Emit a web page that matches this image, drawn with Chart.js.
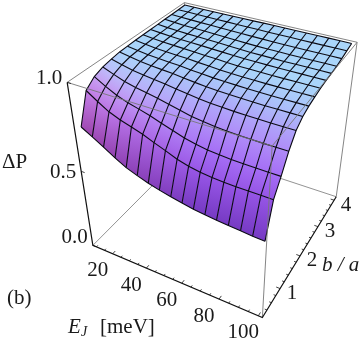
<!DOCTYPE html>
<html>
<head>
<meta charset="utf-8">
<style>
  html, body { margin: 0; padding: 0; background: #fff; }
  canvas { display: block; }
</style>
<script src="https://cdn.jsdelivr.net/npm/chart.js@4/dist/chart.umd.min.js"></script>
</head>
<body>
<canvas id="plot" width="363" height="342"></canvas>
<script>
const E_MESH = [8, 13.7, 19.4, 25.2, 30.9, 36.6, 42.3, 48, 53.8, 59.5, 65.2, 70.9, 76.6, 82.3, 88.1, 93.8, 99.5]
const B_MESH = [0.37, 0.64, 0.91, 1.18, 1.45, 1.72, 1.98, 2.25, 2.52, 2.79, 3.06, 3.33, 3.6, 3.87, 4.14]
const DELTA_P = [
  [.736, .700, .661, .620, .585, .560, .538, .520, .505, .492, .480, .472, .465, .460, .455, .450, .447],
  [.900, .858, .820, .794, .775, .754, .728, .704, .677, .659, .648, .640, .636, .635, .635, .635, .635],
  [.940, .904, .873, .850, .834, .816, .794, .774, .753, .738, .728, .722, .718, .716, .715, .715, .715],
  [.958, .934, .912, .897, .886, .874, .859, .845, .831, .822, .815, .810, .807, .806, .805, .805, .805],
  [.968, .953, .939, .930, .923, .915, .906, .897, .889, .883, .879, .876, .874, .873, .872, .872, .872],
  [.975, .964, .954, .947, .942, .937, .930, .923, .917, .913, .910, .908, .906, .905, .905, .905, .905],
  [.977, .968, .960, .955, .951, .947, .941, .936, .931, .928, .926, .924, .923, .922, .922, .922, .922],
  [.979, .972, .965, .961, .957, .954, .949, .945, .940, .937, .935, .934, .933, .933, .933, .933, .933],
  [.980, .974, .969, .965, .962, .959, .955, .952, .948, .945, .944, .943, .942, .942, .942, .942, .942],
  [.981, .976, .971, .968, .966, .963, .960, .957, .954, .952, .951, .950, .949, .949, .949, .949, .949],
  [.982, .977, .973, .970, .968, .966, .963, .960, .957, .955, .954, .953, .952, .952, .952, .952, .952],
  [.983, .979, .975, .973, .971, .969, .966, .964, .961, .959, .958, .958, .957, .957, .957, .957, .957],
  [.984, .981, .979, .977, .976, .974, .972, .971, .969, .968, .967, .966, .966, .966, .966, .966, .966],
  [.985, .984, .983, .982, .981, .981, .980, .979, .979, .978, .978, .978, .977, .977, .977, .977, .977],
  [.986, .986, .986, .986, .986, .986, .986, .986, .987, .987, .987, .987, .987, .987, .987, .987, .987]
]
const E_TICKS = [20, 40, 60, 80, 100]
const E_MINOR = [10, 15, 25, 30, 35, 45, 50, 55, 65, 70, 75, 85, 90, 95]
const B_TICKS = [1, 2, 3, 4]
const B_MINOR = [0.4, 0.6, 0.8, 1.2, 1.4, 1.6, 1.8, 2.2, 2.4, 2.6, 2.8, 3.2, 3.4, 3.6, 3.8]
const P_TICKS = [0, 0.5, 1]
const P_LABELS = ['0.0', '0.5', '1.0']

const BLUE = [170,213,250]
const SHADE_LEFT = [[160,72,175],[195,125,228],[200,160,242],[190,190,250],[178,205,250],[172,212,250],BLUE,BLUE,BLUE,BLUE,BLUE,BLUE,BLUE,BLUE,BLUE]
const SHADE_RIGHT = [[118,58,195],[150,85,230],[165,110,245],[175,140,248],[175,165,250],[172,185,250],[170,198,250],[170,206,250],BLUE,BLUE,BLUE,BLUE,BLUE,BLUE,BLUE]

const E_BOX = [7.8, 102]
const B_BOX = [0.2, 4.14]

// view of the unit box, fitted to the corners of the reference
const CAM = [140.1339, 136.4973, -36.9337, 92.8514, 36.6074, -65.8019, -176.8206, 245.3688, -0.1120, 0.2109, -0.1676]

function project(E, b, p){
  const u = (E - E_BOX[0])/(E_BOX[1] - E_BOX[0])
  const v = (b - B_BOX[0])/(B_BOX[1] - B_BOX[0])
  const w = CAM[8]*u + CAM[9]*v + CAM[10]*p + 1
  return {
    x: (CAM[0]*u + CAM[1]*v + CAM[2]*p + CAM[3])/w,
    y: (CAM[4]*u + CAM[5]*v + CAM[6]*p + CAM[7])/w
  }
}

function shade(i, j){
  const f = Math.min(1, i/10)
  const c = SHADE_LEFT[j].map((l, k) => Math.round(l + (SHADE_RIGHT[j][k] - l)*f))
  return 'rgb(' + c.join(',') + ')'
}

function lineSet(pts, color, width){
  return {data: pts, borderColor: color, borderWidth: width, showLine: true, fill: false}
}

const GRAY = '#777777'
const BLACK = '#111111'
const ctx2d = document.getElementById('plot').getContext('2d')
const paint = []

// box edges behind the surface
paint.push(lineSet([project(E_BOX[0],B_BOX[0],0), project(E_BOX[0],B_BOX[1],0), project(E_BOX[1],B_BOX[1],0)], GRAY, 0.8))
paint.push(lineSet([project(E_BOX[0],B_BOX[1],0), project(E_BOX[0],B_BOX[1],1)], GRAY, 0.8))
paint.push(lineSet([project(E_BOX[0],B_BOX[0],1), project(E_BOX[0],B_BOX[1],1), project(E_BOX[1],B_BOX[1],1)], GRAY, 0.9))

const pt = (i, j) => project(E_MESH[i], B_MESH[j], DELTA_P[j][i])

// surface cells, far rows first
for(let j = B_MESH.length - 2; j >= 0; j--){
  for(let i = 0; i < E_MESH.length - 1; i++){
    const a = pt(i, j), b = pt(i + 1, j), c = pt(i + 1, j + 1), d = pt(i, j + 1)
    const g = ctx2d.createLinearGradient((a.x + b.x)/2, (a.y + b.y)/2, (c.x + d.x)/2, (c.y + d.y)/2)
    g.addColorStop(0, shade(i + 0.5, j))
    g.addColorStop(1, shade(i + 0.5, j + 1))
    paint.push({data: [a, b, c, d, a], borderWidth: 0, borderColor: 'rgba(0,0,0,0)', backgroundColor: g, showLine: true, fill: 'shape'})
  }
}

// mesh lines
E_MESH.forEach((e, i) => {
  paint.push(lineSet(B_MESH.map((b, j) => pt(i, j)), '#0a0a14', 1.1))
})
B_MESH.forEach((b, j) => {
  paint.push(lineSet(E_MESH.map((e, i) => pt(i, j)), '#0a0a14', 1.1))
})

// box edges in front of the surface
paint.push(lineSet([project(E_BOX[0],B_BOX[0],1), project(E_BOX[1],B_BOX[0],1), project(E_BOX[1],B_BOX[1],1), project(E_BOX[1],B_BOX[1],0)], GRAY, 0.9))
paint.push(lineSet([project(E_BOX[1],B_BOX[0],1), project(E_BOX[1],B_BOX[0],0)], GRAY, 0.9))

// axes
paint.push(lineSet([project(E_BOX[0],B_BOX[0],1), project(E_BOX[0],B_BOX[0],0), project(E_BOX[1],B_BOX[0],0), project(E_BOX[1],B_BOX[1],0)], BLACK, 1.2))

const eTick = (e, len) => lineSet([project(e,B_BOX[0],0), project(e,B_BOX[0] + len,0)], BLACK, 0.8)
const bTick = (b, len) => lineSet([project(E_BOX[1],b,0), project(E_BOX[1] - len,b,0)], BLACK, 0.8)
E_TICKS.forEach(e => paint.push(eTick(e, 0.09)))
E_MINOR.forEach(e => paint.push(eTick(e, 0.05)))
B_TICKS.forEach(b => paint.push(bTick(b, 2)))
B_MINOR.forEach(b => paint.push(bTick(b, 1.1)))
P_TICKS.forEach(p => paint.push(lineSet([project(E_BOX[0],B_BOX[0],p), project(E_BOX[0] + 2,B_BOX[0],p)], BLACK, 0.8)))

const labelPlugin = {
  id: 'labels',
  afterDatasetsDraw(chart){
    const c = chart.ctx
    const sx = chart.scales.x, sy = chart.scales.y
    const put = (s, p, dx, dy, font, align) => {
      c.font = font
      c.textAlign = align
      c.textBaseline = 'middle'
      c.fillStyle = '#1a1a1a'
      c.fillText(s, sx.getPixelForValue(p.x) + dx, sy.getPixelForValue(p.y) + dy)
    }
    const serif = '21px "Liberation Serif"'
    E_TICKS.forEach(e => put(String(e), project(e,B_BOX[0],0), -15, 17, serif, 'center'))
    B_TICKS.forEach(b => put(String(b), project(E_BOX[1],b,0), 12, 5, serif, 'center'))
    P_TICKS.forEach((p, k) => put(P_LABELS[k], project(E_BOX[0],B_BOX[0],p), -5, [-8, 1, -4][k], serif, 'right'))
    put('\u0394P', {x: 2, y: 162}, 0, 0, serif, 'left')
    put('(b)', {x: 7, y: 298}, 0, 0, serif, 'left')
    put('b / a', {x: 322, y: 265}, 0, 0, 'italic 21px "Liberation Serif"', 'left')
    put('E', {x: 68, y: 327}, 0, 0, 'italic 21px "Liberation Serif"', 'left')
    put('J', {x: 81, y: 332}, 0, 0, 'italic 14px "Liberation Serif"', 'left')
    put('[meV]', {x: 100, y: 327}, 0, 0, '21px "Liberation Serif"', 'left')
  }
}

new Chart(document.getElementById('plot'), {
  type: 'scatter',
  data: {datasets: paint.reverse()},
  options: {
    responsive: false,
    animation: false,
    events: [],
    layout: {padding: 0},
    elements: {point: {radius: 0}, line: {tension: 0, capBezierPoints: false}},
    plugins: {legend: {display: false}, tooltip: {enabled: false}},
    scales: {
      x: {type: 'linear', min: 0, max: 363, display: false},
      y: {type: 'linear', min: 0, max: 342, reverse: true, display: false}
    }
  },
  plugins: [labelPlugin]
})
</script>
</body>
</html>
